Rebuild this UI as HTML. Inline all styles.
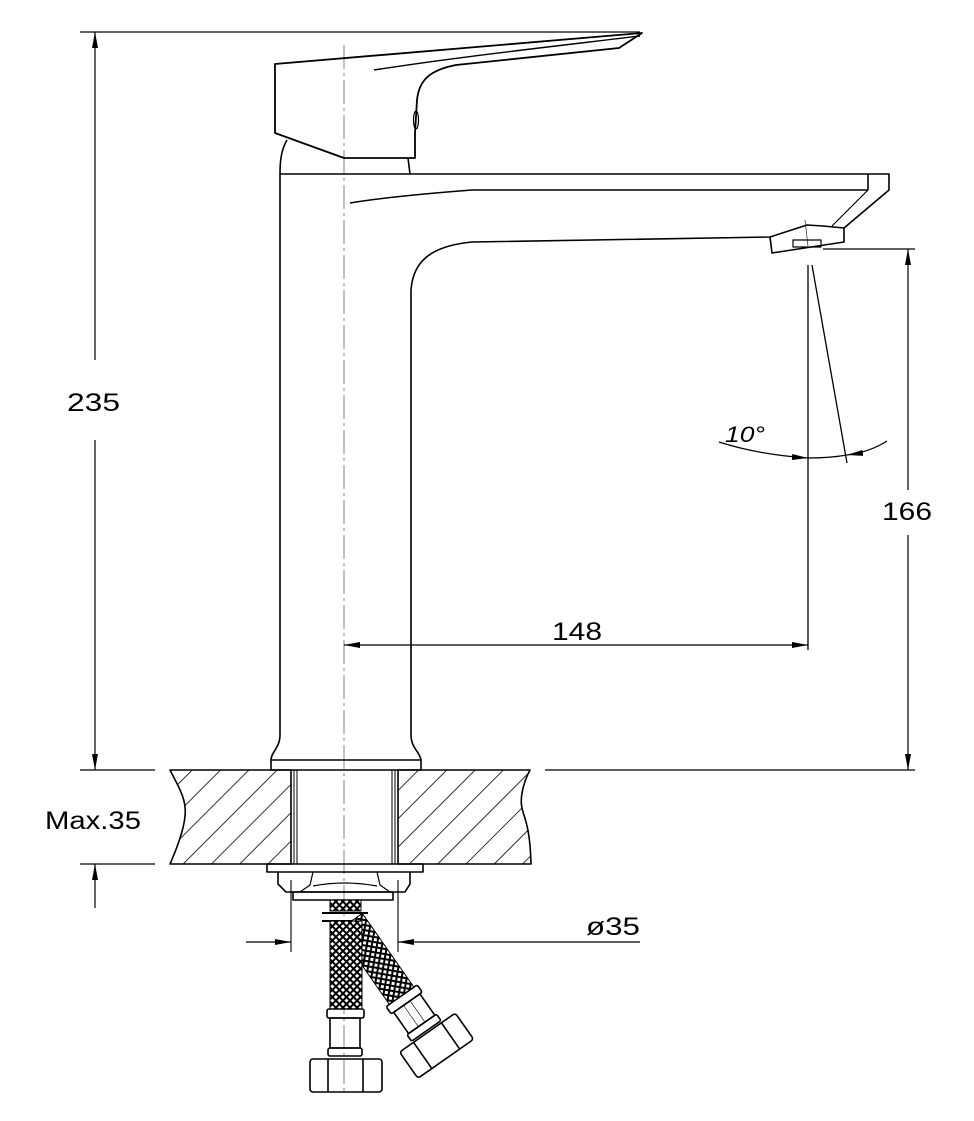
<!DOCTYPE html>
<html><head><meta charset="utf-8"><style>
html,body{margin:0;padding:0;background:#fff}
svg{display:block}
text{font-family:"Liberation Sans",sans-serif;fill:#000}
</style></head><body>
<svg width="974" height="1121" viewBox="0 0 974 1121" xmlns="http://www.w3.org/2000/svg">
<defs>
<marker id="a" viewBox="0 0 16 6" refX="16" refY="3" markerWidth="16" markerHeight="6" markerUnits="userSpaceOnUse" orient="auto-start-reverse"><path d="M0,0 L16,3 L0,6 Z" fill="#000"/></marker>
<pattern id="h" patternUnits="userSpaceOnUse" width="20" height="20" patternTransform="rotate(45)"><line x1="0" y1="0" x2="0" y2="20" stroke="#000" stroke-width="1.6"/></pattern>
<pattern id="b" patternUnits="userSpaceOnUse" width="5" height="5" patternTransform="rotate(45)"><rect width="5" height="5" fill="#000"/><rect x="1" y="1" width="3" height="3" fill="#fff"/></pattern>
</defs>
<g fill="none" stroke="#000" stroke-width="1.6" stroke-linejoin="round">
<line x1="344" y1="45" x2="344" y2="1095" stroke-width="0.8" stroke-dasharray="24,4,3,4" stroke="#666"/>
<line x1="80" y1="32" x2="640" y2="32" stroke-width="1.3"/>
<line x1="95" y1="32" x2="95" y2="360" stroke-width="1.2" marker-start="url(#a)"/>
<line x1="95" y1="440" x2="95" y2="770" stroke-width="1.2" marker-end="url(#a)"/>
<path d="M275,64 L642,33 L619,48 L456,65 C430,70 419,80 417,100 L415,133 L415,158 L344,158 L275,133 Z" stroke-width="1.8"/>
<path d="M374,70 C450,58 540,48 640,36" stroke-width="1.4"/>
<ellipse cx="416" cy="120" rx="2.5" ry="9" stroke-width="1.2"/>
<line x1="408" y1="158" x2="410" y2="174"/>
<path d="M287,140 C281,150 280,162 280,174"/>
<path d="M280,174 L889,174 L889,190 L844,228 L823,226 L807,225 L770,237 L472,242 C430,246 413,262 411,290 L411,735 C411,748 420,752 421,760 M280,174 L280,735 C280,748 271,752 271,760"/>
<line x1="868" y1="174" x2="868" y2="190"/>
<path d="M868,190 L472,190 C420,194 380,198 350,203"/>
<path d="M868,190 L832,226" stroke-width="1.2"/>
<path d="M770,237 L772,253 L844,242 L844,228"/>
<rect x="793" y="240" width="28" height="7" stroke-width="1.2"/>
<line x1="805" y1="220" x2="808" y2="246" stroke-width="0.6"/>
<rect x="271" y="760" width="150" height="10"/>
<line x1="823" y1="249" x2="915" y2="249" stroke-width="1.3"/>
<line x1="808" y1="265" x2="808" y2="650" stroke-width="1.3"/>
<line x1="812" y1="265" x2="847" y2="463" stroke-width="1.3"/>
<path d="M719,442 Q760,455 808,458" stroke-width="1.2" marker-end="url(#a)"/>
<path d="M887,441 Q870,452 847,455" stroke-width="1.2" marker-end="url(#a)"/>
<path d="M808,458 Q830,458 847,455" stroke-width="1.2"/>
<line x1="908" y1="249" x2="908" y2="490" stroke-width="1.2" marker-start="url(#a)"/>
<line x1="908" y1="535" x2="908" y2="770" stroke-width="1.2" marker-end="url(#a)"/>
<line x1="344" y1="645" x2="808" y2="645" stroke-width="1.2" marker-start="url(#a)" marker-end="url(#a)"/>
<line x1="80" y1="770" x2="155" y2="770" stroke-width="1.3"/>
<line x1="545" y1="770" x2="915" y2="770" stroke-width="1.3"/>
<line x1="80" y1="864" x2="155" y2="864" stroke-width="1.3"/>
<line x1="95" y1="908" x2="95" y2="864" stroke-width="1.2" marker-end="url(#a)"/>
<path d="M170,770 L291,770 L291,864 L170,864 C185,830 186,815 185,807 C184,795 176,782 170,770 Z" fill="url(#h)"/>
<path d="M398,770 L530,770 C522,785 520,800 522,808 C524,818 530,825 531,864 L398,864 Z" fill="url(#h)"/>
<line x1="294" y1="770" x2="294" y2="864" stroke-width="1"/>
<line x1="297" y1="770" x2="297" y2="864" stroke-width="1"/>
<line x1="395" y1="770" x2="395" y2="864" stroke-width="1"/>
<line x1="392" y1="770" x2="392" y2="864" stroke-width="1"/>
<rect x="267" y="864" width="156" height="8"/>
<path d="M278,872 L278,884 L286,892 L405,892 L410,884 L410,872"/>
<path d="M313,872 L310,885 L300,892 M377,872 L380,885 L390,892 M313,886 Q344,880 377,886" stroke-width="1.2"/>
<rect x="293" y="892" width="100" height="8"/>
<line x1="291" y1="880" x2="291" y2="952" stroke-width="1.1"/>
<line x1="398" y1="880" x2="398" y2="952" stroke-width="1.1"/>
<line x1="246" y1="942" x2="291" y2="942" stroke-width="1.2" marker-end="url(#a)"/>
<line x1="640" y1="942" x2="398" y2="942" stroke-width="1.2" marker-end="url(#a)"/>
<rect x="330" y="900" width="31" height="11" fill="url(#b)" stroke-width="1"/>
<line x1="322" y1="913" x2="368" y2="913" stroke-width="2"/>
<line x1="322" y1="921" x2="368" y2="921" stroke-width="2"/>
<g transform="rotate(-35 350 922)">
<rect x="335" y="922" width="30" height="90" fill="url(#b)" stroke-width="1"/>
<rect x="331" y="1012" width="38" height="9" rx="2"/>
<rect x="334" y="1021" width="32" height="26"/>
<line x1="346" y1="1021" x2="346" y2="1047" stroke-width="0.6"/>
<line x1="354" y1="1021" x2="354" y2="1047" stroke-width="0.6"/>
<rect x="332" y="1047" width="36" height="8" rx="2"/>
<rect x="316" y="1057" width="68" height="32" rx="3"/>
<line x1="333" y1="1057" x2="333" y2="1089"/>
<line x1="367" y1="1057" x2="367" y2="1089"/>
</g>
<rect x="330" y="921" width="32" height="88" fill="url(#b)" stroke-width="1"/>
<rect x="327" y="1009" width="37" height="9" rx="2"/>
<rect x="330" y="1018" width="30" height="30"/>
<rect x="328" y="1048" width="34" height="8" rx="2"/>
<rect x="310" y="1059" width="72" height="33" rx="3"/>
<line x1="328" y1="1059" x2="328" y2="1092"/>
<line x1="363" y1="1059" x2="363" y2="1092"/>
</g>
<text x="67" y="411" font-size="25" textLength="53" lengthAdjust="spacingAndGlyphs">235</text>
<text x="882" y="520" font-size="25" textLength="50" lengthAdjust="spacingAndGlyphs">166</text>
<text x="552" y="640" font-size="25" textLength="50" lengthAdjust="spacingAndGlyphs">148</text>
<text x="45" y="829" font-size="25" textLength="96" lengthAdjust="spacingAndGlyphs">Max.35</text>
<text x="586" y="935" font-size="25" textLength="54" lengthAdjust="spacingAndGlyphs">ø35</text>
<text x="725" y="442" font-size="22" font-style="italic" textLength="40" lengthAdjust="spacingAndGlyphs">10°</text>
</svg>
</body></html>
